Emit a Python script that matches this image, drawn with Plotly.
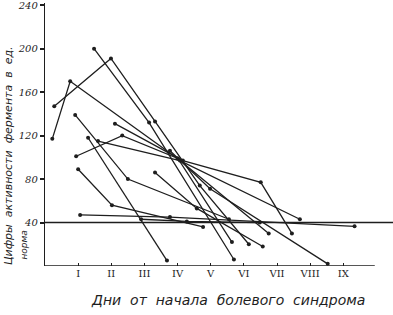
import plotly.graph_objects as go

# Each patient's series: days (x) and enzyme activity (y)
s1_x = [0.22, 0.76, 4.0, 6.75];        s1_y = [117, 170, 99, 30]
s2_x = [0.28, 1.99, 3.32, 4.67, 6.15]; s2_y = [147, 191, 133, 74, 20]
s3_x = [1.48, 3.14, 5.7];              s3_y = [200, 132, 6]
s4_x = [0.91, 2.5, 5.55];              s4_y = [139, 80, 43]
s5_x = [2.11, 4.16, 6.51, 7.45];       s5_y = [131, 97, 77, 30]
s6_x = [0.94, 2.33, 4.01, 5.64];       s6_y = [101, 120, 99, 22]
s7_x = [1.6, 4.07, 7.69];              s7_y = [115, 97, 43]
s8_x = [1.3, 3.68];                    s8_y = [118, 5]
s9_x = [1.0, 2.02, 4.77];              s9_y = [89, 56, 36]
s10_x = [1.06, 3.77, 9.34];            s10_y = [47, 45, 36.5]
s11_x = [3.32, 4.58, 6.57];            s11_y = [86, 53, 18]
s12_x = [3.77, 4.98, 8.53];            s12_y = [106, 71, 2]
s13_x = [2.9, 4.28, 6.48];             s13_y = [43, 41, 40]

series = [(s1_x, s1_y), (s2_x, s2_y), (s3_x, s3_y), (s4_x, s4_y), (s5_x, s5_y),
          (s6_x, s6_y), (s7_x, s7_y), (s8_x, s8_y), (s9_x, s9_y), (s10_x, s10_y),
          (s11_x, s11_y), (s12_x, s12_y), (s13_x, s13_y)]

norma = 40
day_ticks = [1, 2, 3, 4, 5, 6, 7, 8, 9]
day_labels = ["I", "II", "III", "IV", "V", "VI", "VII", "VIII", "IX"]
y_ticks = [40, 80, 120, 160, 200, 240]

ink = "#1e1e1e"
fig = go.Figure()
for xs, ys in series:
    fig.add_trace(go.Scatter(x=xs, y=ys, mode="lines+markers",
                             line=dict(color=ink, width=1.3),
                             marker=dict(color=ink, size=4),
                             showlegend=False, hoverinfo="skip"))

# norma line
fig.add_shape(type="line", xref="x", yref="y", x0=0, x1=10.5, y0=norma, y1=norma,
              line=dict(color=ink, width=1.6))
# x axis line (shorter than plot width)
fig.add_shape(type="line", xref="x", yref="y", x0=0, x1=9.95, y0=0, y1=0,
              line=dict(color=ink, width=1.4))

tick_font = dict(family="DejaVu Serif", size=10, color=ink, style="italic")
fig.update_layout(
    width=393, height=315,
    margin=dict(l=45, r=0, t=1, b=49),
    paper_bgcolor="white", plot_bgcolor="white",
    xaxis=dict(range=[0, 10.5], tickvals=day_ticks, ticktext=day_labels,
               showgrid=False, zeroline=False, showline=False,
               ticks="inside", ticklen=3, tickcolor=ink, tickwidth=1.2,
               tickfont=dict(family="DejaVu Serif", size=10, color=ink)),
    yaxis=dict(range=[0, 242], tickvals=y_ticks, ticktext=[str(v) for v in y_ticks],
               showgrid=False, zeroline=False, showline=True, linecolor=ink, linewidth=1.4,
               ticks="outside", ticklen=4, tickcolor=ink, tickwidth=1.5,
               ticklabeloverflow="allow", tickfont=tick_font),
    annotations=[
        dict(text="Цифры  активности  фермента  в  ед.", xref="paper", yref="paper",
             x=-45/348, y=0.42, xanchor="left", yanchor="middle", textangle=-90,
             showarrow=False, font=dict(family="DejaVu Sans", size=11, color=ink, style="italic")),
        dict(text="норма", xref="paper", yref="paper",
             x=-28/348, y=(266-262)/265, xanchor="left", yanchor="bottom", textangle=-90,
             showarrow=False, font=dict(family="DejaVu Sans", size=9, color=ink, style="italic")),
        dict(text="Дни  от  начала  болевого  синдрома", xref="paper", yref="paper",
             x=(228-45)/348, y=-(300-266)/265, xanchor="center", yanchor="middle",
             showarrow=False, font=dict(family="DejaVu Sans", size=14, color=ink, style="italic")),
    ],
)

fig.write_html("out.html")
